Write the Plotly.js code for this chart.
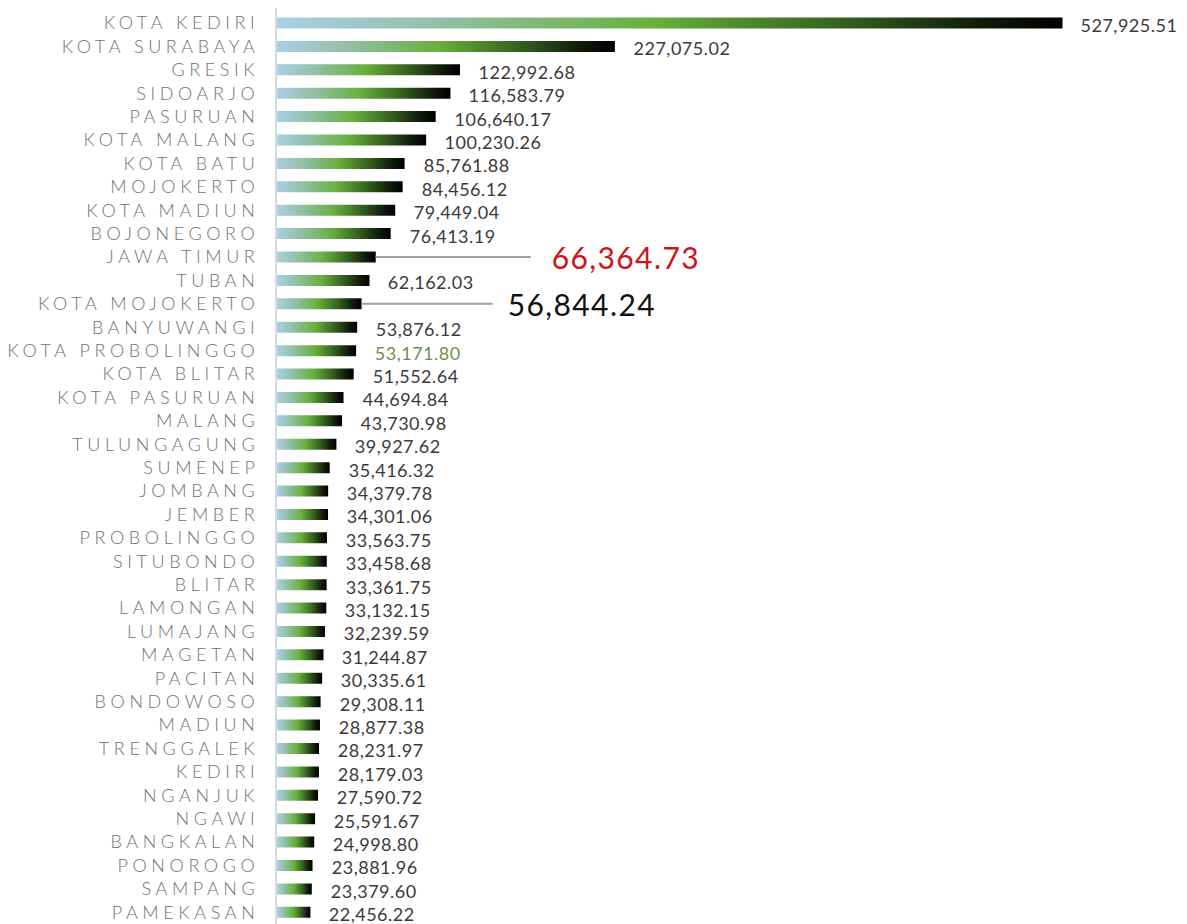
<!DOCTYPE html>
<html>
<head>
<meta charset="utf-8">
<script src="https://cdn.plot.ly/plotly-3.0.1.min.js"></script>
<style>
html,body{margin:0;padding:0;background:#fff;}
#chart{width:1187px;height:924px;}
.ytick text{letter-spacing:4.6px; font-weight:300 !important;}
</style>
</head>
<body>
<div id="chart"></div>
<script>
const categories = ["KOTA KEDIRI","KOTA SURABAYA","GRESIK","SIDOARJO","PASURUAN","KOTA MALANG","KOTA BATU","MOJOKERTO","KOTA MADIUN","BOJONEGORO","JAWA TIMUR","TUBAN","KOTA MOJOKERTO","BANYUWANGI","KOTA PROBOLINGGO","KOTA BLITAR","KOTA PASURUAN","MALANG","TULUNGAGUNG","SUMENEP","JOMBANG","JEMBER","PROBOLINGGO","SITUBONDO","BLITAR","LAMONGAN","LUMAJANG","MAGETAN","PACITAN","BONDOWOSO","MADIUN","TRENGGALEK","KEDIRI","NGANJUK","NGAWI","BANGKALAN","PONOROGO","SAMPANG","PAMEKASAN"];
const values = [527925.51,227075.02,122992.68,116583.79,106640.17,100230.26,85761.88,84456.12,79449.04,76413.19,66364.73,62162.03,56844.24,53876.12,53171.80,51552.64,44694.84,43730.98,39927.62,35416.32,34379.78,34301.06,33563.75,33458.68,33361.75,33132.15,32239.59,31244.87,30335.61,29308.11,28877.38,28231.97,28179.03,27590.72,25591.67,24998.80,23881.96,23379.60,22456.22];
const highlightProvince = "JAWA TIMUR";
const highlightBig = "KOTA MOJOKERTO";
const highlightGreen = "KOTA PROBOLINGGO";

function fmt(v){
  return v.toLocaleString('en-US',{minimumFractionDigits:2,maximumFractionDigits:2});
}

const FONT = 'Lato, "Open Sans", sans-serif';

const trace = {
  type:'bar', orientation:'h',
  x: values, y: categories,
  marker:{color:'#6aaa3f', line:{width:0}},
  hoverinfo:'none'
};

const annotations = categories.map((c,i)=>{
  const base = {x: values[i], y: c, xref:'x', yref:'y', text: fmt(values[i]),
    xanchor:'left', yanchor:'middle', showarrow:false, xshift:19, yshift:-2,
    font:{family:FONT, size:18, color:'#3a3a3a'}};
  if (c === highlightProvince){
    return Object.assign(base,{showarrow:true, arrowhead:0, arrowwidth:2, arrowcolor:'#a0a0a0',
      ax:180, ay:0, xshift:0, yshift:0, startstandoff:25,
      font:{family:FONT, size:30, color:'#cc1418'}});
  }
  if (c === highlightBig){
    return Object.assign(base,{showarrow:true, arrowhead:0, arrowwidth:2, arrowcolor:'#a0a0a0',
      ax:150, ay:0, xshift:0, yshift:0, startstandoff:19,
      font:{family:FONT, size:30, color:'#111111'}});
  }
  if (c === highlightGreen){
    base.font = Object.assign({}, base.font, {color:'#6f8f4c'});
  }
  return base;
});

const layout = {
  width:1187, height:924,
  margin:{l:277, r:50, t:8, b:0, pad:0},
  paper_bgcolor:'#ffffff', plot_bgcolor:'#ffffff',
  showlegend:false,
  bargap:0.53,
  xaxis:{range:[0,578000], visible:false, showgrid:false, zeroline:false},
  yaxis:{type:'category', autorange:'reversed', showgrid:false, zeroline:false,
    showline:true, linecolor:'#d3dbe2', linewidth:2, ticks:'', ticklabelstandoff:12,
    tickfont:{family:FONT, size:18, color:'#727272'}},
  annotations: annotations
};

Plotly.newPlot('chart',[trace],layout,{displayModeBar:false, staticPlot:true}).then(gd=>{
  const svg = gd.querySelector('svg.main-svg');
  const NS = 'http://www.w3.org/2000/svg';
  const defs = document.createElementNS(NS,'defs');
  const lg = document.createElementNS(NS,'linearGradient');
  lg.setAttribute('id','barGrad');
  lg.setAttribute('x1','0'); lg.setAttribute('y1','0'); lg.setAttribute('x2','1'); lg.setAttribute('y2','0');
  [['0','#a9d0e6'],['0.2','#93c0a8'],['0.48','#67b03d'],['0.72','#35601f'],['0.9','#101a0a'],['1','#000000']].forEach(([o,c])=>{
    const s = document.createElementNS(NS,'stop');
    s.setAttribute('offset',o); s.setAttribute('stop-color',c);
    lg.appendChild(s);
  });
  defs.appendChild(lg);
  svg.insertBefore(defs, svg.firstChild);
  gd.querySelectorAll('.bars .point path').forEach(p=>{ p.style.fill='url(#barGrad)'; });
  gd.querySelectorAll('.annotation-text').forEach(t=>{
    const fs = parseFloat(t.style.fontSize) || 18;
    t.style.letterSpacing = fs > 24 ? '1.4px' : '0.5px';
  });
});
</script>
</body>
</html>
